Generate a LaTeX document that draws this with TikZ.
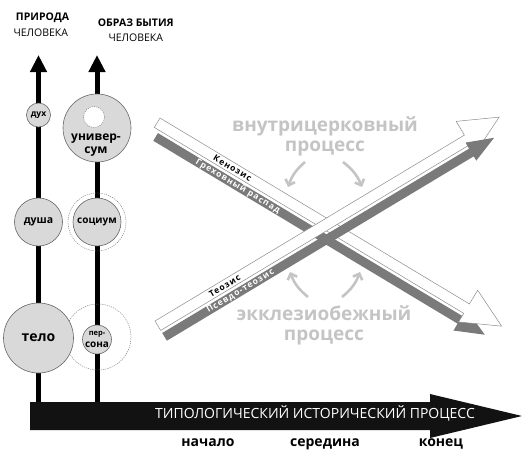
\documentclass[tikz,border=0pt]{standalone}
\usepackage{fontspec}
\setmainfont{Open Sans}
\usepackage{tikz}
\usetikzlibrary{arrows.meta}
\definecolor{bandgray}{RGB}{122,122,122}
\definecolor{softgray}{RGB}{196,196,196}
\definecolor{ballfill}{RGB}{217,217,217}
\definecolor{barblack}{RGB}{18,18,18}
\tikzstyle{ball}=[circle,draw=black!60,fill=ballfill,line width=0.6pt,inner sep=0pt,align=center,font=\bfseries]
\tikzstyle{halo}=[circle,draw=black!55,line width=0.4pt,dash pattern=on 1.2pt off 1pt,inner sep=0pt]
\tikzstyle{axis}=[line width=5pt,-{Triangle[length=17pt,width=16pt]}]
\tikzstyle{whiteband}=[draw=black!45,line width=0.5pt,fill=white]
\tikzstyle{bandlabel}=[inner sep=0pt,font=\fontsize{8.5}{9}\selectfont\bfseries\addfontfeature{LetterSpace=12}]
\tikzstyle{turn}=[draw=softgray,line width=2.6pt,-{Straight Barb[length=5pt,width=10pt]}]
\tikzstyle{process}=[text=softgray,align=center,font=\fontsize{19}{20}\selectfont\bfseries]
\tikzstyle{title}=[anchor=base,font=\fontsize{10.5}{12}\selectfont]
\tikzstyle{stage}=[anchor=base,font=\fontsize{14}{16}\selectfont\bfseries]

\begin{document}
\begin{tikzpicture}[x=1pt,y=-1pt]
    \useasboundingbox (0,0) rectangle (525,451);
    % Headings over the two axes
    \node[title,font=\fontsize{10.5}{12}\selectfont\bfseries] (nat-head) at (42.5,20.7) {ПРИРОДА};
    \node[title] (nat-sub) at (40.8,36.7) {ЧЕЛОВЕКА};
    \node[title,font=\fontsize{10.5}{12}\selectfont\bfseries] (mode-head) at (135.8,26.7) {ОБРАЗ БЫТИЯ};
    \node[title] (mode-sub) at (135.8,41.7) {ЧЕЛОВЕКА};

    % The two vertical axes
    \coordinate (nat-base) at (38.5,402);
    \coordinate (nat-tip) at (38.5,55);
    \coordinate (mode-base) at (97,402);
    \coordinate (mode-tip) at (97,55);
    \draw[axis] (nat-base) -- (nat-tip);
    \draw[axis] (mode-base) -- (mode-tip);

    % Dashed rings, then the circles on the axes
    \foreach \pos/\size/\name in {{(97,222)/58/socium-ring}, {(98,337)/66/persona-ring}}
        \node[halo,minimum size=\size pt] (\name) at \pos {};
    \foreach \pos/\size/\name/\txt in {{(38.5,115)/24/spirit/{\fontsize{8.5}{9}\selectfont дух}},
                                      {(38.5,222)/48/soul/{\fontsize{10.5}{12}\selectfont душа}},
                                      {(38.5,338)/70/body/{\fontsize{14}{16}\selectfont тело}},
                                      {(97,128)/68/universe/{}},
                                      {(97,222)/48/socium/{\fontsize{10}{12}\selectfont социум}},
                                      {(97,339.5)/28/persona/{\fontsize{7.5}{9}\selectfont пер-\\сона}}}
        \node[ball,minimum size=\size pt] (\name) at \pos {\txt};
    \node[halo,fill=white,minimum size=21pt] (universe-core) at (94,117) {};
    \node[align=center,font=\fontsize{12}{12.5}\selectfont\bfseries] (universe-text) at (96,145) {универ-\\сум};

    % Historical process bar
    \fill[barblack] (30,402) -- (430,402) -- (430,394) -- (522,416) -- (430,438) -- (430,430) -- (30,430) -- cycle;
    \node[anchor=base,text=white,font=\fontsize{14}{16}\selectfont] (history) at (315,418.3) {ТИПОЛОГИЧЕСКИЙ ИСТОРИЧЕСКИЙ ПРОЦЕСС};
    \foreach \x/\name/\txt in {208/start/начало, 325/middle/середина, 441/finish/конец}
        \node[stage] (\name) at (\x,446) {\txt};

    % Descending band: kenosis over sinful decay
    \begin{scope}[shift={(160,118)},rotate=-31]
        \fill[bandgray] (6,14) -- (361,14) -- (361,6) -- (390,18.5) -- (361,31) -- (361,23) -- (6,23) -- cycle;
        \filldraw[whiteband] (0,0) -- (361,0) -- (361,-16) -- (400,2.5) -- (361,21) -- (361,11) -- (0,11) -- cycle;
        \node[bandlabel,rotate=-31] (kenosis) at (88,5.5) {Кенозис};
        \node[bandlabel,text=white,rotate=-31] (decay) at (102,18.5) {Греховный распад};
    \end{scope}
    % Ascending band: theosis over pseudo-theosis
    \begin{scope}[shift={(155,321)},rotate=31]
        \filldraw[whiteband] (0,0) -- (361,0) -- (361,-16) -- (400,2.5) -- (361,21) -- (361,11) -- (0,11) -- cycle;
        \fill[bandgray] (0,14) -- (358,14) -- (358,7) -- (385,17.6) -- (358,28) -- (358,23) -- (0,23) -- cycle;
        \node[bandlabel,rotate=31] (theosis) at (78,5.5) {Теозис};
        \node[bandlabel,text=white,rotate=31] (pseudo) at (88.5,18.5) {Псевдо-теозис};
    \end{scope}

    % Church processes and the turning arrows
    \node[process] (inner) at (325,136) {внутрицерковный\\процесс};
    \node[process] (outer) at (324,325) {экклезиобежный\\процесс};
    \coordinate (ul-s) at (305,162);
    \coordinate (ul-e) at (288,187);
    \coordinate (ur-s) at (343,162);
    \coordinate (ur-e) at (362,187);
    \coordinate (ll-s) at (308,297);
    \coordinate (ll-e) at (290,272);
    \coordinate (lr-s) at (342,297);
    \coordinate (lr-e) at (360,272);
    \draw[turn] (ul-s) to[bend right=15] (ul-e);
    \draw[turn] (ur-s) to[bend left=15] (ur-e);
    \draw[turn] (ll-s) to[bend left=15] (ll-e);
    \draw[turn] (lr-s) to[bend right=15] (lr-e);
\end{tikzpicture}
\end{document}
